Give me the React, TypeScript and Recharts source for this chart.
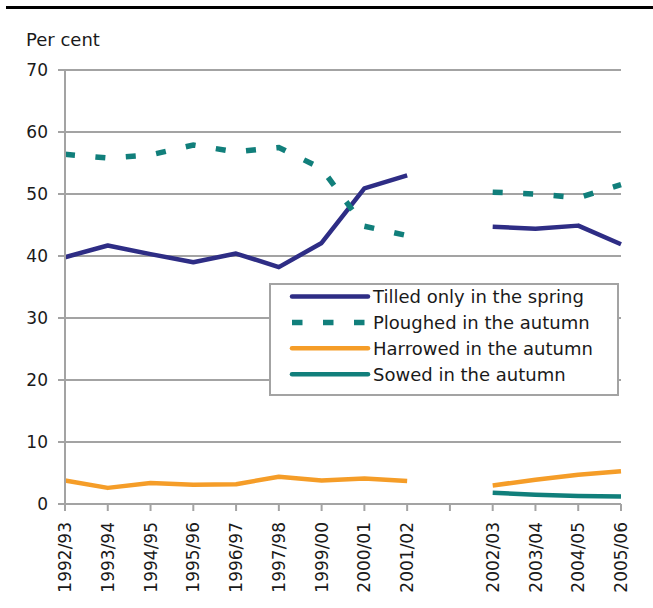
import React from 'react';
import { LineChart, Line, XAxis, YAxis, CartesianGrid, Legend } from 'recharts';

const categories = ['1992/93', '1993/94', '1994/95', '1995/96', '1996/97', '1997/98', '1999/00', '2000/01', '2001/02', '', '2002/03', '2003/04', '2004/05', '2005/06'];
const tilled = [39.8, 41.7, 40.3, 39.0, 40.4, 38.2, 42.1, 50.9, 53.0, null, 44.7, 44.4, 44.9, 41.9];
const ploughed = [56.4, 55.8, 56.3, 57.9, 56.8, 57.5, 54.1, 44.8, 43.3, null, 50.3, 50.0, 49.4, 51.5];
const harrowed = [3.8, 2.6, 3.4, 3.1, 3.2, 4.4, 3.8, 4.1, 3.7, null, 3.0, 3.9, 4.7, 5.3];
const sowed = [null, null, null, null, null, null, null, null, null, null, 1.8, 1.5, 1.3, 1.2];
const yTicks = [0, 10, 20, 30, 40, 50, 60, 70];

const seriesNames = ['Tilled only in the spring', 'Ploughed in the autumn', 'Harrowed in the autumn', 'Sowed in the autumn'];

const NAVY = '#2e2d85';
const TEAL = '#117f7b';
const ORANGE = '#f59d28';
const GRID = '#a3a3a3';
const TEXT = '#1a1a1a';
const FONT = '"DejaVu Sans", sans-serif';

const data = categories.map((c, i) => ({
  year: c,
  tilled: tilled[i],
  ploughed: ploughed[i],
  harrowed: harrowed[i],
  sowed: sowed[i],
}));

const legendItems = [
  { name: seriesNames[0], color: NAVY, dashed: false },
  { name: seriesNames[1], color: TEAL, dashed: true },
  { name: seriesNames[2], color: ORANGE, dashed: false },
  { name: seriesNames[3], color: TEAL, dashed: false },
];

function LegendBox() {
  return (
    <div style={{ width: 350, height: 113, boxSizing: 'border-box', border: `2px solid ${GRID}`, background: '#fff' }}>
      <svg width={346} height={109} style={{ display: 'block' }}>
        {legendItems.map((it, i) => {
          const cy = 11.5 + i * 25.9;
          return (
            <g key={it.name}>
              {it.dashed ? (
                <line x1={21} x2={97} y1={cy} y2={cy} stroke={it.color} strokeWidth={5.5} strokeDasharray="10.5 20.5" />
              ) : (
                <line x1={21} x2={97} y1={cy} y2={cy} stroke={it.color} strokeWidth={4.5} strokeLinecap="round" />
              )}
              <text x={102} y={cy} dy="0.36em" fontFamily={FONT} fontSize={18} fill={TEXT}>
                {it.name}
              </text>
            </g>
          );
        })}
      </svg>
    </div>
  );
}

function XTick(props: any) {
  const { x, y, payload } = props;
  return (
    <text
      x={x}
      y={y}
      transform={`rotate(-90, ${x}, ${y})`}
      textAnchor="end"
      dy="0.36em"
      fontFamily={FONT}
      fontSize={17}
      fill={TEXT}
    >
      {payload.value}
    </text>
  );
}

export default function App() {
  return (
    <div style={{ position: 'absolute', left: 0, top: 0, width: 653, height: 608, background: '#fff' }}>
      <div style={{ position: 'absolute', left: 6, top: 6, width: 647, height: 3, background: '#000' }} />
      <svg style={{ position: 'absolute', left: 0, top: 0 }} width={200} height={60}>
        <text x={26} y={46} fontFamily={FONT} fontSize={18} fill={TEXT}>Per cent</text>
      </svg>
      <div style={{ position: 'absolute', left: 0, top: 0 }}>
        <LineChart width={653} height={608} data={data} margin={{ top: 70, right: 32, bottom: 0, left: 5 }}>
          <CartesianGrid vertical={false} stroke={GRID} strokeWidth={2} />
          <XAxis
            dataKey="year"
            height={104}
            interval={0}
            tick={<XTick />}
            tickSize={7}
            tickMargin={11}
            axisLine={{ stroke: GRID, strokeWidth: 2 }}
            tickLine={{ stroke: GRID, strokeWidth: 2 }}
          />
          <YAxis
            width={60}
            domain={[0, 70]}
            ticks={yTicks}
            interval={0}
            tickSize={7}
            tickMargin={10}
            axisLine={{ stroke: GRID, strokeWidth: 2 }}
            tickLine={{ stroke: GRID, strokeWidth: 2 }}
            tick={{ fontFamily: FONT, fontSize: 17, fill: TEXT }}
          />
          <Legend
            layout="horizontal"
            verticalAlign="middle"
            align="center"
            content={() => <LegendBox />}
            wrapperStyle={{ left: 269, top: 283, width: 350, height: 113 }}
          />
          <Line dataKey="tilled" name={seriesNames[0]} stroke={NAVY} strokeWidth={4.5} dot={false} isAnimationActive={false} strokeLinejoin="round" />
          <Line dataKey="ploughed" name={seriesNames[1]} stroke={TEAL} strokeWidth={5.5} strokeDasharray="10 20.5" dot={false} isAnimationActive={false} />
          <Line dataKey="harrowed" name={seriesNames[2]} stroke={ORANGE} strokeWidth={4.5} dot={false} isAnimationActive={false} strokeLinejoin="round" />
          <Line dataKey="sowed" name={seriesNames[3]} stroke={TEAL} strokeWidth={4.5} dot={false} isAnimationActive={false} strokeLinejoin="round" />
        </LineChart>
      </div>
    </div>
  );
}
